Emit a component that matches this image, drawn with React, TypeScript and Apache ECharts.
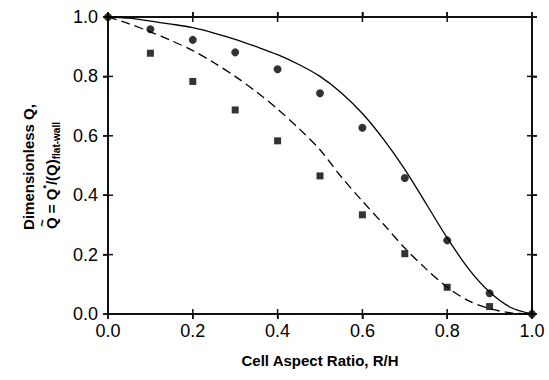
import React, { useEffect, useRef } from "react";
import * as echarts from "echarts";

const ratioTicks = [0, 0.2, 0.4, 0.6, 0.8, 1.0];
const pointX = [0, 0.1, 0.2, 0.3, 0.4, 0.5, 0.6, 0.7, 0.8, 0.9, 1.0];
const circleValues = [1.0, 0.959, 0.923, 0.881, 0.824, 0.743, 0.627, 0.458, 0.248, 0.07, 0.0];
const squareX = [0.1, 0.2, 0.3, 0.4, 0.5, 0.6, 0.7, 0.8, 0.9];
const squareValues = [0.878, 0.783, 0.687, 0.583, 0.465, 0.334, 0.203, 0.09, 0.025];
const curveX = [0, 0.05, 0.1, 0.15, 0.2, 0.25, 0.3, 0.35, 0.4, 0.45, 0.5, 0.55, 0.6, 0.65, 0.7, 0.75, 0.8, 0.85, 0.9, 0.95, 1.0];
const solidCurve = [1.0, 0.996, 0.986, 0.976, 0.964, 0.946, 0.925, 0.9, 0.873, 0.84, 0.8, 0.745, 0.675, 0.588, 0.487, 0.372, 0.256, 0.153, 0.074, 0.022, 0.0];
const dashedCurve = [1.0, 0.977, 0.95, 0.92, 0.887, 0.846, 0.8, 0.748, 0.69, 0.625, 0.553, 0.462, 0.38, 0.302, 0.222, 0.152, 0.09, 0.045, 0.018, 0.004, 0.0];

const FONT = "'Liberation Sans', Arial, sans-serif";
const INK = "#111";

function pairs(xs: number[], ys: number[]) {
  return xs.map((x, i) => [x, ys[i]]);
}

export default function App() {
  const ref = useRef<HTMLDivElement>(null);
  useEffect(() => {
    document.body.style.margin = "0";
    const chart = echarts.init(ref.current!, null, { renderer: "svg" });
    const mk = (labels: boolean, margin: number) => ({
      type: "value" as const,
      min: ratioTicks[0],
      max: ratioTicks[ratioTicks.length - 1],
      interval: 0.2,
      splitLine: { show: false },
      axisLine: { show: true, onZero: false, lineStyle: { color: INK, width: 2 } },
      axisTick: { show: true, inside: false, length: 5, lineStyle: { color: INK, width: 1.5 } },
      axisLabel: { show: labels, margin, fontSize: 18, color: "#000", fontFamily: FONT, formatter: (v: number) => v.toFixed(1) },
    });
    const xMain: any = mk(true, 8);
    xMain.name = "Cell Aspect Ratio, R/H";
    xMain.nameLocation = "middle";
    xMain.nameGap = 39;
    xMain.nameTextStyle = { fontSize: 15, fontWeight: "bold", color: "#000", fontFamily: FONT };
    const xTop: any = mk(false, 0);
    xTop.position = "top";
    const yMain: any = mk(true, 10);
    yMain.position = "left";
    const yRight: any = mk(false, 0);
    yRight.position = "right";
    const boldText = { fontSize: 15, fontWeight: "bold", fontFamily: FONT, fill: "#000" };
    const TL = 5;
    const seg = (x1: number, y1: number, x2: number, y2: number) => ({
      type: "line",
      shape: { x1, y1, x2, y2 },
      style: { stroke: INK, lineWidth: 1.5 },
    });
    chart.setOption({
      animation: false,
      grid: { left: 108, right: 17, top: 17, bottom: 66 },
      xAxis: [xMain, xTop],
      yAxis: [yMain, yRight],
      graphic: [
        {
          type: "group",
          x: 28,
          y: 167,
          rotation: Math.PI / 2,
          children: [
            {
              type: "text",
              x: 0,
              y: 0,
              style: { ...boldText, text: "Dimensionless Q,", align: "center", verticalAlign: "middle" },
            },
            {
              type: "text",
              x: -62,
              y: 23,
              style: {
                text: "{b|Q = Q}{sup|*}{b|/(Q)}{sub|flat-wall}",
                fontFamily: FONT,
                fill: "#000",
                align: "left",
                verticalAlign: "middle",
                rich: {
                  b: { ...boldText, lineHeight: 20 },
                  sup: { fontSize: 9, fontWeight: "bold", fontFamily: FONT, fill: "#000", verticalAlign: "top", lineHeight: 20 },
                  sub: { fontSize: 10, fontWeight: "bold", fontFamily: FONT, fill: "#000", verticalAlign: "bottom", lineHeight: 20 },
                },
              },
            },
            {
              type: "text",
              x: -56,
              y: 14,
              style: { fontSize: 13, fontWeight: "bold", fontFamily: FONT, fill: "#000", text: "~", align: "center", verticalAlign: "middle" },
            },
          ],
        },
      ],
      series: [
        {
          type: "custom",
          clip: false,
          silent: true,
          z: 1,
          data: ratioTicks.map((v) => [v, v]),
          renderItem: (params: any, api: any) => {
            const v = api.value(0);
            const lo = ratioTicks[0];
            const hi = ratioTicks[ratioTicks.length - 1];
            const b = api.coord([v, lo]);
            const t = api.coord([v, hi]);
            const l = api.coord([lo, v]);
            const r = api.coord([hi, v]);
            return {
              type: "group",
              children: [
                seg(b[0], b[1] - TL, b[0], b[1] + TL),
                seg(t[0], t[1] - TL, t[0], t[1] + TL),
                seg(l[0] - TL, l[1], l[0] + TL, l[1]),
                seg(r[0] - TL, r[1], r[0] + TL, r[1]),
              ],
            };
          },
        },
        {
          type: "line",
          data: pairs(curveX, solidCurve),
          smooth: 0.3,
          showSymbol: false,
          symbol: "none",
          lineStyle: { color: "#000", width: 1.3 },
          z: 2,
        },
        {
          type: "line",
          data: pairs(curveX, dashedCurve),
          smooth: 0.3,
          showSymbol: false,
          symbol: "none",
          lineStyle: { color: "#000", width: 1.3, type: [9, 5] },
          z: 2,
        },
        {
          type: "scatter",
          data: pairs(pointX, circleValues),
          symbol: "circle",
          symbolSize: 8,
          clip: false,
          itemStyle: { color: "#000" },
          z: 3,
        },
        {
          type: "scatter",
          data: pairs(squareX, squareValues),
          symbol: "rect",
          symbolSize: 7,
          clip: false,
          itemStyle: { color: "#000" },
          z: 3,
        },
      ],
    });
    const tl = chart.convertToPixel({ gridIndex: 0 }, [0, 1]) as number[];
    const br = chart.convertToPixel({ gridIndex: 0 }, [1, 0]) as number[];
    chart.setOption({
      graphic: [
        {
          type: "rect",
          id: "frame",
          shape: { x: tl[0], y: tl[1], width: br[0] - tl[0], height: br[1] - tl[1] },
          style: { fill: "none", stroke: INK, lineWidth: 2 },
          z: 0,
        },
      ],
    });
    return () => chart.dispose();
  }, []);
  return <div ref={ref} style={{ width: 549, height: 380 }} />;
}
